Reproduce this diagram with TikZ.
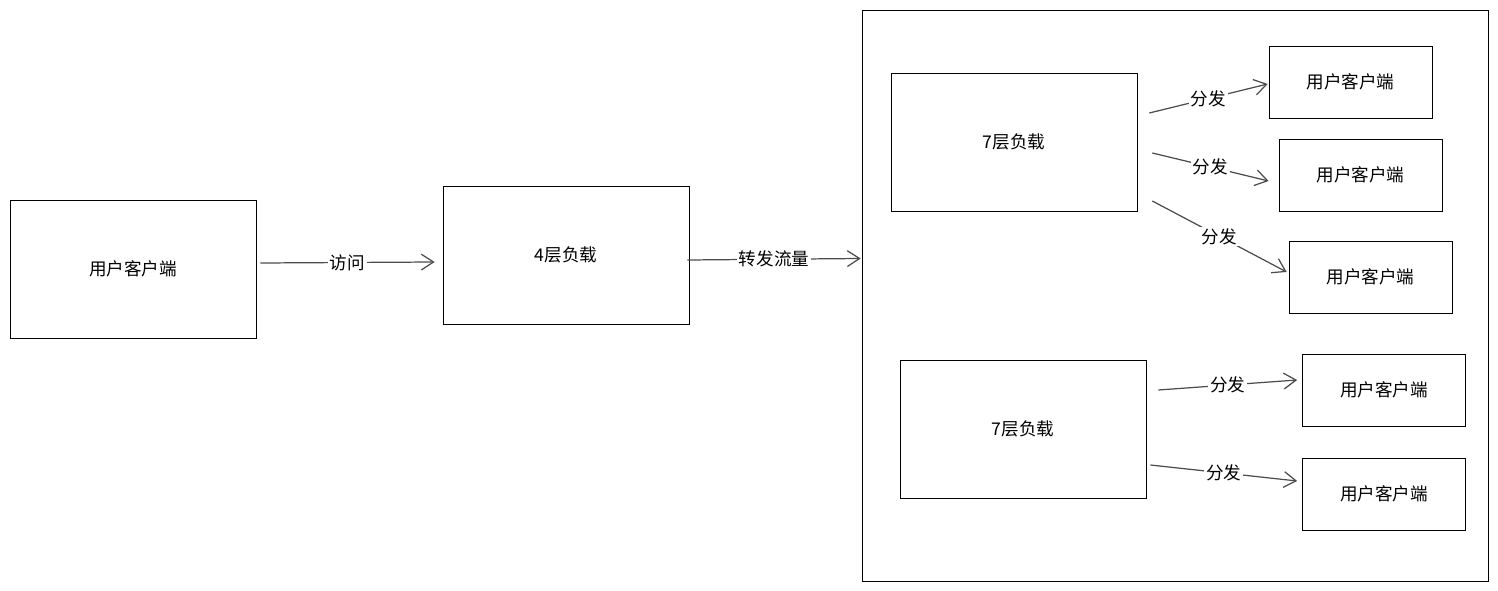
\documentclass[tikz,border=0pt]{standalone}
\usepackage{fontspec}
\setmainfont{Noto Sans CJK SC}
\usetikzlibrary{arrows.meta}
\tikzstyle{Block} = [draw, rectangle, minimum height=2.76cm, minimum width=4.92cm, font=\fontsize{10}{12}\selectfont]
\tikzstyle{Client} = [draw, rectangle, minimum height=1.44cm, minimum width=3.26cm, font=\fontsize{10}{12}\selectfont]
\tikzstyle{Flow} = [draw=black!70, line width=0.7pt, -{Straight Barb[length=7pt,width=9pt]}]
\tikzstyle{Label} = [fill=white, inner sep=1pt, font=\fontsize{10}{12}\selectfont]

\begin{document}
\begin{tikzpicture}[x=0.02cm, y=-0.02cm]
    \useasboundingbox (0,0) rectangle (1498,591);
    \node[Block] (user)  at (133,269)  {用户客户端};
    \node[Block] (four)  at (566,255)  {4层负载};
    \node[draw, rectangle, minimum width=12.52cm, minimum height=11.42cm] (group) at (1175,295.5) {};
    \node[Block] (sevenA) at (1014,142) {7层负载};
    \node[Block] (sevenB) at (1023,429) {7层负载};
    \node[Client] (cA) at (1350.5,82)  {用户客户端};
    \node[Client] (cB) at (1360.5,175) {用户客户端};
    \node[Client] (cC) at (1370.5,277) {用户客户端};
    \node[Client] (cD) at (1384,390)   {用户客户端};
    \node[Client] (cE) at (1384,494)   {用户客户端};
    % main path
    \draw[Flow] ([shift={(4,-6)}]user.east) -- node[Label] {访问} ([shift={(-8,7)}]four.west);
    \draw[Flow] ([shift={(-2,5)}]four.east) -- node[Label] {转发流量} ([shift={(-1,-37)}]group.west);
    % fan out
    \draw[Flow] ([shift={(12,-29)}]sevenA.east) -- node[Label] {分发} ([shift={(-1,2)}]cA.west);
    \draw[Flow] ([shift={(15,11)}]sevenA.east) -- node[Label] {分发} ([shift={(-10,6)}]cB.west);
    \draw[Flow] ([shift={(15,59)}]sevenA.east) -- node[Label] {分发} ([shift={(-2,-5)}]cC.west);
    \draw[Flow] ([shift={(12,-39)}]sevenB.east) -- node[Label] {分发} ([shift={(-5,-10)}]cD.west);
    \draw[Flow] ([shift={(4,36)}]sevenB.east) -- node[Label] {分发} ([shift={(-5,-13)}]cE.west);
\end{tikzpicture}
\end{document}
